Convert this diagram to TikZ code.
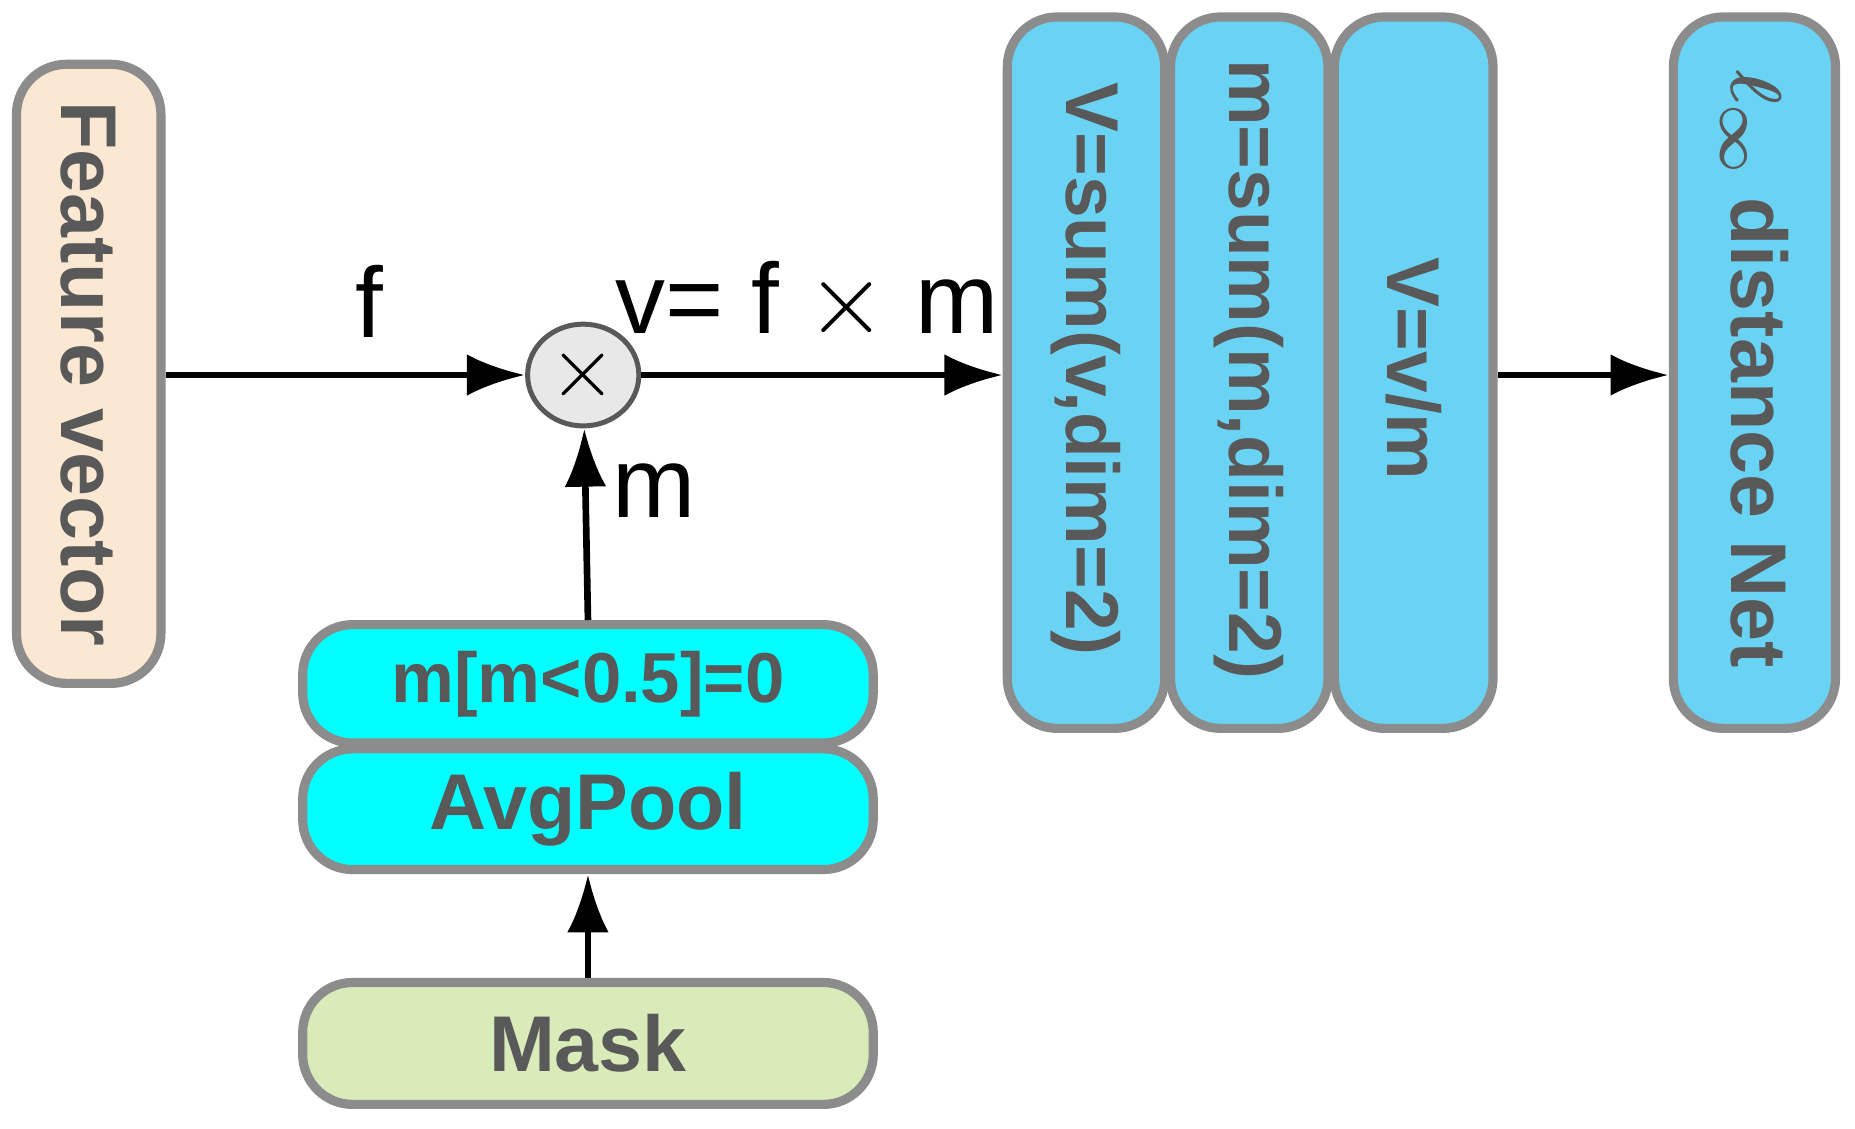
\documentclass[tikz,border=0pt]{standalone}
\usepackage{amsmath}
\usepackage{fontspec}
\setmainfont{Liberation Sans}
\usetikzlibrary{arrows.meta,shapes.geometric}
\definecolor{bd}{HTML}{8C8C8C}
\definecolor{tx}{HTML}{595959}
\definecolor{beige}{HTML}{FAE8D2}
\definecolor{blu}{HTML}{6AD3F4}
\definecolor{cy}{HTML}{00FFFF}
\definecolor{grn}{HTML}{D9EBB9}
\begin{document}
\begin{tikzpicture}[x=0.01cm,y=-0.01cm,
 box/.style={draw=bd,line width=2.2pt,rounded corners=12pt,inner sep=0pt,font=\bfseries,text=tx},
 arr/.style={-{Latex[length=14pt,width=10pt]},line width=1.6pt},
 lab/.style={font=\fontsize{24}{28}\selectfont}]
\useasboundingbox (0,0) rectangle (1568,954);
\node[box,fill=beige,minimum width=1.22cm,minimum height=5.23cm] (fv) at (75,316) {};
\node[rotate=-90,font=\fontsize{19}{22}\bfseries\selectfont,text=tx] at (fv) {Feature vector};
\node[draw=tx,fill=gray!18,ellipse,minimum width=0.94cm,minimum height=0.86cm,line width=1.2pt,inner sep=0pt] (mul) at (493,317) {};
\node[font=\fontsize{20}{20}\selectfont] at (mul) {$\times$};
\node[box,fill=blu,minimum width=1.33cm,minimum height=6.01cm] (b1) at (918,315) {};
\node[box,fill=blu,minimum width=1.33cm,minimum height=6.01cm] (b2) at (1056,315) {};
\node[box,fill=blu,minimum width=1.34cm,minimum height=6.01cm] (b3) at (1195,315) {};
\node[box,fill=blu,minimum width=1.37cm,minimum height=6.01cm] (b4) at (1483,315) {};
\node[rotate=-90,font=\fontsize{18}{22}\bfseries\selectfont,text=tx] at (918,312) {V=sum(v,dim=2)};
\node[rotate=-90,font=\fontsize{18}{22}\bfseries\selectfont,text=tx] at (1056,312) {m=sum(m,dim=2)};
\node[rotate=-90,font=\fontsize{18}{22}\bfseries\selectfont,text=tx] at (1195,312) {V=v/m};
\node[rotate=-90,font=\fontsize{19}{22}\bfseries\selectfont,text=tx] at (1483,312) {$\boldsymbol{\ell_\infty}$ distance Net};
\node[box,fill=cy,minimum width=4.82cm,minimum height=1.0cm] (thr) at (497,578) {};
\node[font=\fontsize{17}{20}\bfseries\selectfont,text=tx] at (thr) {m[m<0.5]=0};
\node[box,fill=cy,minimum width=4.82cm,minimum height=1.02cm] (avg) at (497,684) {};
\node[font=\fontsize{19}{22}\bfseries\selectfont,text=tx] at (avg) {AvgPool};
\node[box,fill=grn,minimum width=4.82cm,minimum height=1.03cm] (mask) at (497,882) {};
\node[font=\fontsize{19}{22}\bfseries\selectfont,text=tx] at (mask) {Mask};
\draw[arr] (fv.east|-mul) -- (mul);
\draw[arr] (mul) -- (b1.west|-mul);
\draw[arr] (b3.east|-mul) -- (b4.west|-mul);
\draw[arr] (thr.north) -- (mul);
\draw[arr] (mask.north) -- (avg.south);
\node[lab] at (312,255) {f};
\node[lab] at (682,255) {v= f $\times$ m};
\node[lab] at (553,415) {m};
\end{tikzpicture}
\end{document}
